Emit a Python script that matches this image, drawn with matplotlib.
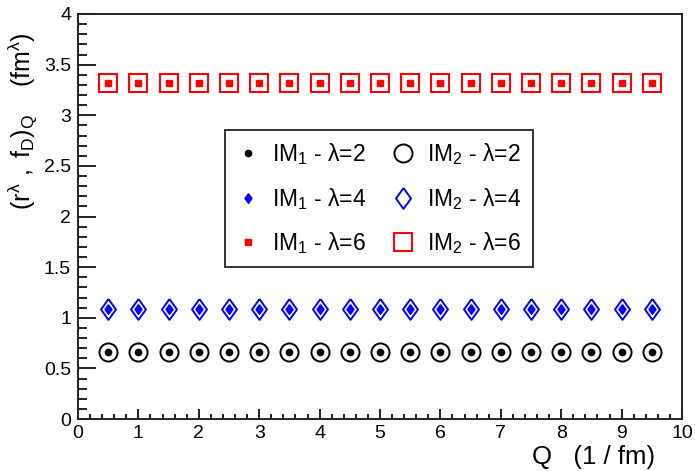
import matplotlib
matplotlib.use('Agg')
import matplotlib.pyplot as plt
import numpy as np
from matplotlib.ticker import MultipleLocator

plt.rcParams['font.family'] = ['Liberation Sans', 'DejaVu Sans']
plt.rcParams['mathtext.fontset'] = 'custom'
plt.rcParams['mathtext.rm'] = 'Liberation Sans'
plt.rcParams['mathtext.it'] = 'Liberation Sans'

Q = [0.5, 1.0, 1.5, 2.0, 2.5, 3.0, 3.5, 4.0, 4.5, 5.0,
     5.5, 6.0, 6.5, 7.0, 7.5, 8.0, 8.5, 9.0, 9.5]
im1_l2 = [0.662] * 19
im2_l2 = [0.662] * 19
im1_l4 = [1.083] * 19
im2_l4 = [1.083] * 19
im1_l6 = [3.315] * 19
im2_l6 = [3.315] * 19

# ROOT-like diamond (wider than matplotlib's thin diamond)
diam = [(0, 1), (0.72, 0), (0, -1), (-0.72, 0), (0, 1)]

fig = plt.figure(figsize=(6.95, 4.71), dpi=100)
ax = fig.add_axes([78 / 695, 52 / 471, 604 / 695, 405 / 471])

h1, = ax.plot(Q, im1_l2, 'o', color='black', ms=4.5, ls='none')
h2, = ax.plot(Q, im1_l4, marker=diam, color='blue', ms=7, ls='none')
h3, = ax.plot(Q, im1_l6, 's', color='red', ms=4.5, ls='none')
h4, = ax.plot(Q, im2_l2, 'o', mfc='none', mec='black', mew=1.4, ms=13, ls='none')
h5, = ax.plot(Q, im2_l4, marker=diam, mfc='none', mec='blue', mew=1.4, ms=15, ls='none')
h6, = ax.plot(Q, im2_l6, 's', mfc='none', mec='red', mew=1.5, ms=12.5, ls='none')

ax.set_xlim(0, 10)
ax.set_ylim(0, 4)
ax.xaxis.set_major_locator(MultipleLocator(1))
ax.xaxis.set_minor_locator(MultipleLocator(0.2))
ax.yaxis.set_major_locator(MultipleLocator(0.5))
ax.yaxis.set_minor_locator(MultipleLocator(0.1))
ax.tick_params(which='both', direction='in', top=False, right=False,
               labelsize=14, width=1.4, color='#222222')
ax.tick_params(axis='y', which='major', length=13, pad=5)
ax.tick_params(axis='y', which='minor', length=6.5)
ax.tick_params(axis='x', which='major', length=7, pad=4)
ax.tick_params(axis='x', which='minor', length=3.3)
ax.set_yticks([0, 0.5, 1, 1.5, 2, 2.5, 3, 3.5, 4],
              ['0', '0.5', '1', '1.5', '2', '2.5', '3', '3.5', '4'])
for s in ax.spines.values():
    s.set_linewidth(1.4)
    s.set_color('#222222')

ax.set_xlabel(r'Q   (1 / fm)', fontsize=18.5, ha='right')
ax.xaxis.set_label_coords((655 - 78) / 604, -(457 - 419) / 405)
ax.xaxis.label.set_va('center')
ax.set_ylabel(r'$(r^{\lambda}\ ,\ f_{D})_{Q}$    (fm$^{\lambda}$)', fontsize=18,
              ha='right')
ax.yaxis.set_label_coords(-(78 - 22) / 604, (419 - 32) / 405)
ax.yaxis.label.set_va('center')

handles = [h1, h2, h3, h4, h5, h6]
labels = [r'IM$_1$ - $\lambda$=2', r'IM$_1$ - $\lambda$=4', r'IM$_1$ - $\lambda$=6',
          r'IM$_2$ - $\lambda$=2', r'IM$_2$ - $\lambda$=4', r'IM$_2$ - $\lambda$=6']
leg = ax.legend(handles, labels, ncol=2, loc='upper left',
                bbox_to_anchor=((225 - 78) / 604, (419 - 130) / 405),
                fontsize=16.5, frameon=True, fancybox=False, edgecolor='black',
                handletextpad=0.55, columnspacing=1.1, labelspacing=0.8,
                handlelength=1.0, borderpad=0.5, borderaxespad=0)
leg.get_frame().set_linewidth(1.4)

fig.savefig('out.png', dpi=100)
